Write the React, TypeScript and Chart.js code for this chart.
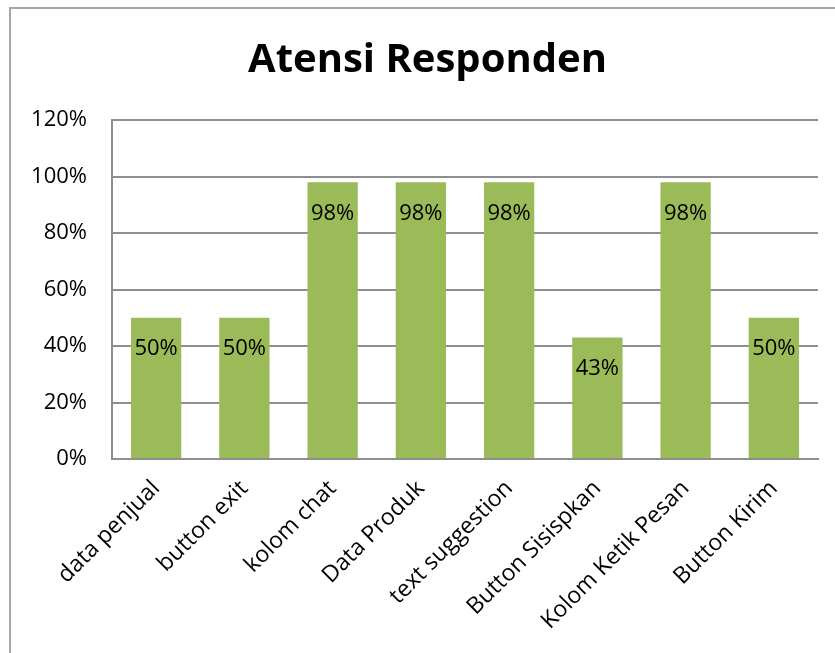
import React, { useEffect, useRef } from "react";
import { Chart, registerables } from "chart.js";

Chart.register(...registerables);

const categories = [
  "data penjual",
  "button exit",
  "kolom chat",
  "Data Produk",
  "text suggestion",
  "Button Sisispkan",
  "Kolom Ketik Pesan",
  "Button Kirim",
];
const values = [0.5, 0.5, 0.98, 0.98, 0.98, 0.43, 0.98, 0.5];
const labelsShown = ["50%", "50%", "98%", "98%", "98%", "43%", "98%", "50%"];
const chartTitle = "Atensi Responden";

const FONT = "'Open Sans', 'Noto Sans', sans-serif";

const dataLabelPlugin = {
  id: "insideEndLabels",
  afterDatasetsDraw(chart: any) {
    const ctx = chart.ctx;
    const meta = chart.getDatasetMeta(0);
    ctx.save();
    ctx.font = `22px ${FONT}`;
    ctx.fillStyle = "#000000";
    ctx.textAlign = "center";
    ctx.textBaseline = "alphabetic";
    meta.data.forEach((bar: any, i: number) => {
      ctx.fillText(labelsShown[i], bar.x, bar.y + 37.5);
    });
    ctx.restore();
  },
};

const titlePlugin = {
  id: "offsetTitle",
  afterDraw(chart: any) {
    const ctx = chart.ctx;
    ctx.save();
    ctx.font = `bold 40px ${FONT}`;
    ctx.fillStyle = "#000000";
    ctx.textAlign = "center";
    ctx.textBaseline = "alphabetic";
    ctx.fillText(chartTitle, chart.width / 2 + 10, 72);
    ctx.restore();
  },
};

export default function App() {
  const ref = useRef<HTMLCanvasElement | null>(null);
  useEffect(() => {
    if (!ref.current) return;
    const chart = new Chart(ref.current, {
      type: "bar",
      data: {
        labels: categories,
        datasets: [
          {
            data: values,
            backgroundColor: "#9BBB59",
            borderWidth: 0,
            categoryPercentage: 1,
            barPercentage: 0.57,
          },
        ],
      },
      options: {
        responsive: false,
        animation: false,
        layout: { padding: { left: 0, right: 17, top: 120, bottom: 0 } },
        plugins: {
          legend: { display: false },
          tooltip: { enabled: false },
          title: { display: false },
        },
        scales: {
          x: {
            grid: { display: false, drawTicks: false },
            border: { display: true, color: "#8e8e8e", width: 2 },
            ticks: {
              color: "#000000",
              font: { family: FONT, size: 23 },
              maxRotation: 45,
              minRotation: 45,
              padding: 16,
            },
            afterFit(scale: any) {
              scale.height = 194;
            },
          },
          y: {
            min: 0,
            max: 1.2,
            grid: { color: "#8e8e8e", lineWidth: 2, drawTicks: false },
            border: { display: true, color: "#8e8e8e", width: 2 },
            ticks: {
              stepSize: 0.2,
              color: "#000000",
              font: { family: FONT, size: 22 },
              padding: 25,
              callback: (v: any) => `${Math.round(Number(v) * 100)}%`,
            },
            afterFit(scale: any) {
              scale.width = 112;
            },
          },
        },
      },
      plugins: [dataLabelPlugin, titlePlugin],
    });
    return () => chart.destroy();
  }, []);

  return (
    <div
      style={{
        position: "fixed",
        left: 0,
        top: 0,
        width: 835,
        height: 653,
        overflow: "hidden",
        background: "#ffffff",
      }}
    >
      <canvas
        ref={ref}
        width={835}
        height={653}
        style={{ position: "absolute", left: 0, top: 0, width: 835, height: 653 }}
      />
      <div
        style={{
          position: "absolute",
          left: 9,
          top: 7,
          width: 900,
          height: 700,
          border: "2px solid #a6a6a6",
          pointerEvents: "none",
        }}
      />
    </div>
  );
}
